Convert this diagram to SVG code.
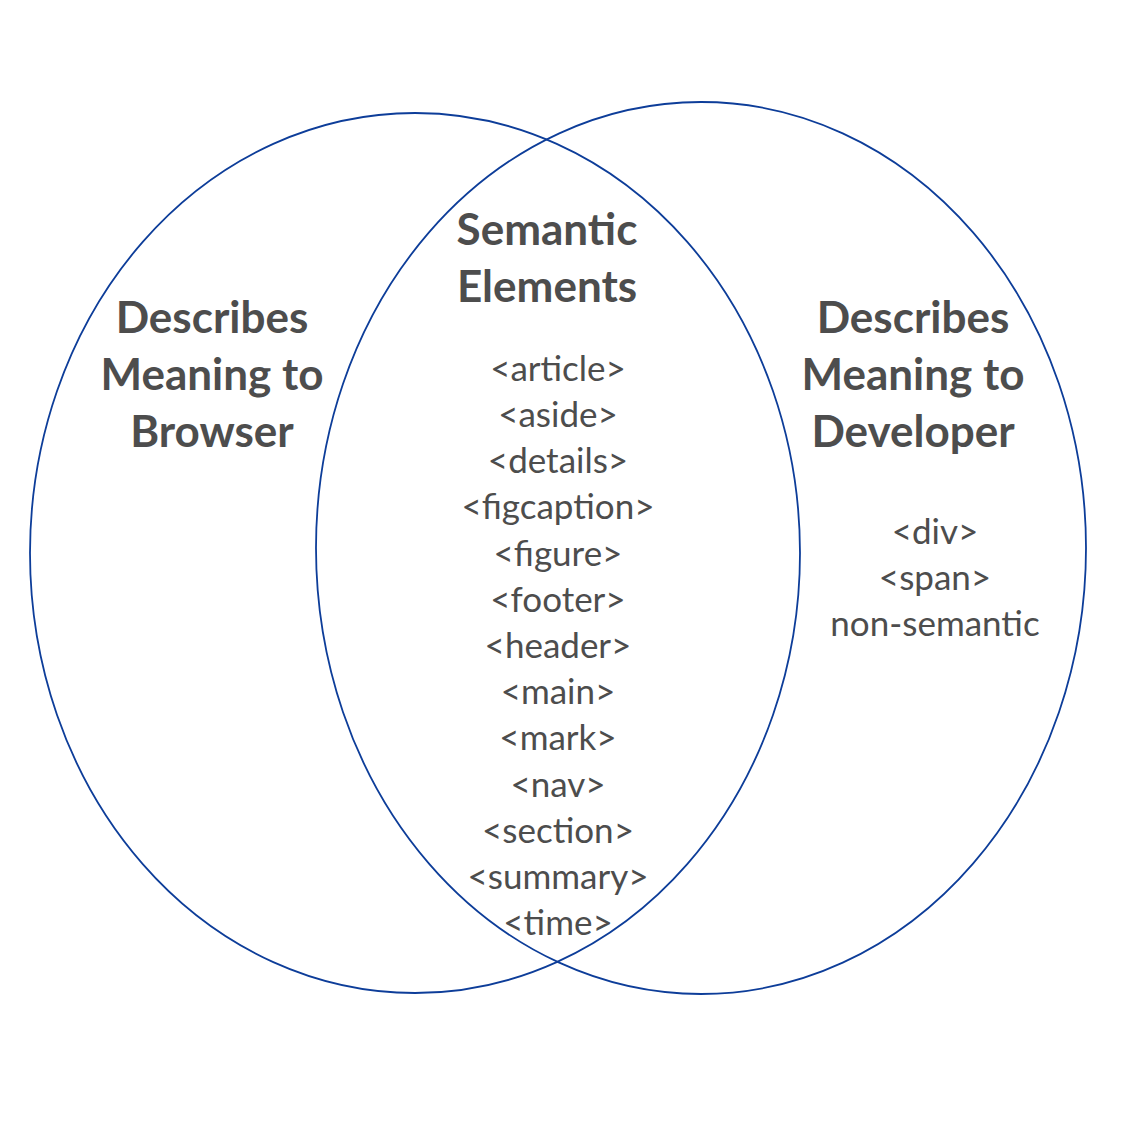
<svg xmlns="http://www.w3.org/2000/svg" width="1128" height="1128" viewBox="0 0 1128 1128">
<style>
.e{fill:none;stroke:#0d3d99;stroke-width:1.8}
.t{font-family:Lato,"Open Sans","Liberation Sans",sans-serif;fill:#4d4d4d;text-anchor:middle}
.h{font-size:44px;font-weight:bold}
.i{font-size:35px}
</style>
<rect width="1128" height="1128" fill="#fff"/>
<g id="browser">
<ellipse class="e" cx="415" cy="553" rx="385" ry="440"/>
<text class="t h" x="212" y="333">Describes</text>
<text class="t h" x="212" y="390">Meaning to</text>
<text class="t h" x="212" y="447">Browser</text>
</g>
<g id="developer">
<ellipse class="e" cx="701" cy="548" rx="385" ry="446"/>
<text class="t h" x="913" y="333">Describes</text>
<text class="t h" x="913" y="390">Meaning to</text>
<text class="t h" x="913" y="447">Developer</text>
<text class="t i" x="935" y="544">&lt;div&gt;</text>
<text class="t i" x="935" y="590">&lt;span&gt;</text>
<text class="t i" x="935" y="636">non-semantic</text>
</g>
<g id="semantic">
<text class="t h" x="547" y="245">Semantic</text>
<text class="t h" x="547" y="302">Elements</text>
<text class="t i" x="558" y="381">&lt;article&gt;</text>
<text class="t i" x="558" y="427">&lt;aside&gt;</text>
<text class="t i" x="558" y="473">&lt;details&gt;</text>
<text class="t i" x="558" y="519">&lt;figcaption&gt;</text>
<text class="t i" x="558" y="566">&lt;figure&gt;</text>
<text class="t i" x="558" y="612">&lt;footer&gt;</text>
<text class="t i" x="558" y="658">&lt;header&gt;</text>
<text class="t i" x="558" y="704">&lt;main&gt;</text>
<text class="t i" x="558" y="750">&lt;mark&gt;</text>
<text class="t i" x="558" y="797">&lt;nav&gt;</text>
<text class="t i" x="558" y="843">&lt;section&gt;</text>
<text class="t i" x="558" y="889">&lt;summary&gt;</text>
<text class="t i" x="558" y="935">&lt;time&gt;</text>
</g>
<g id="connectors"/>
</svg>
